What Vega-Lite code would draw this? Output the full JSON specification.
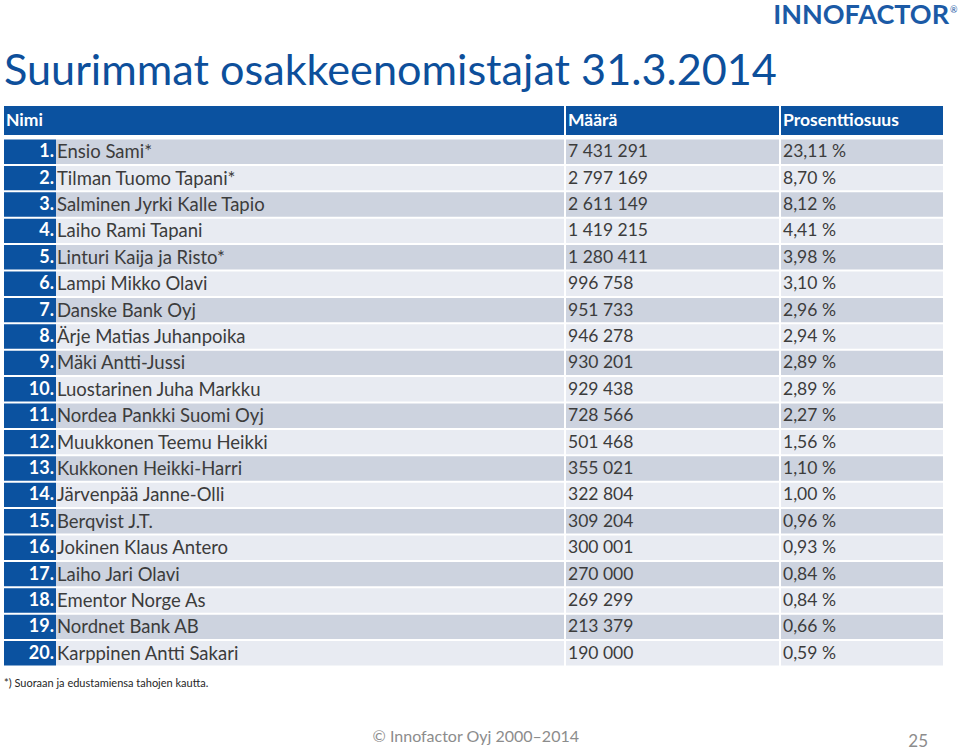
{
  "$schema": "https://vega.github.io/schema/vega-lite/v6.json",
  "padding": {"left": 4, "top": 0, "right": 16, "bottom": 0},
  "background": "white",
  "config": {
    "view": {"stroke": null},
    "axis": {"disable": true},
    "legend": {"disable": true},
    "text": {"font": "Lato", "baseline": "middle"},
    "locale": {"number": {"decimal": ",", "thousands": " ", "grouping": [3], "currency": ["", "."], "percent": " %"}}
  },
  "datasets": {
    "holders": [
      {"rank": 1, "name": "Ensio Sami*", "shares": 7431291, "pct": 0.2311},
      {"rank": 2, "name": "Tilman Tuomo Tapani*", "shares": 2797169, "pct": 0.0870},
      {"rank": 3, "name": "Salminen Jyrki Kalle Tapio", "shares": 2611149, "pct": 0.0812},
      {"rank": 4, "name": "Laiho Rami Tapani", "shares": 1419215, "pct": 0.0441},
      {"rank": 5, "name": "Linturi Kaija ja Risto*", "shares": 1280411, "pct": 0.0398},
      {"rank": 6, "name": "Lampi Mikko Olavi", "shares": 996758, "pct": 0.0310},
      {"rank": 7, "name": "Danske Bank Oyj", "shares": 951733, "pct": 0.0296},
      {"rank": 8, "name": "Ärje Matias Juhanpoika", "shares": 946278, "pct": 0.0294},
      {"rank": 9, "name": "Mäki Antti-Jussi", "shares": 930201, "pct": 0.0289},
      {"rank": 10, "name": "Luostarinen Juha Markku", "shares": 929438, "pct": 0.0289},
      {"rank": 11, "name": "Nordea Pankki Suomi Oyj", "shares": 728566, "pct": 0.0227},
      {"rank": 12, "name": "Muukkonen Teemu Heikki", "shares": 501468, "pct": 0.0156},
      {"rank": 13, "name": "Kukkonen Heikki-Harri", "shares": 355021, "pct": 0.0110},
      {"rank": 14, "name": "Järvenpää Janne-Olli", "shares": 322804, "pct": 0.0100},
      {"rank": 15, "name": "Berqvist J.T.", "shares": 309204, "pct": 0.0096},
      {"rank": 16, "name": "Jokinen Klaus Antero", "shares": 300001, "pct": 0.0093},
      {"rank": 17, "name": "Laiho Jari Olavi", "shares": 270000, "pct": 0.0084},
      {"rank": 18, "name": "Ementor Norge As", "shares": 269299, "pct": 0.0084},
      {"rank": 19, "name": "Nordnet Bank AB", "shares": 213379, "pct": 0.0066},
      {"rank": 20, "name": "Karppinen Antti Sakari", "shares": 190000, "pct": 0.0059}
    ],
    "one": [{}]
  },
  "hconcat": [
    {
      "width": 50,
      "height": 750,
      "layer": [
        {
          "data": {"name": "holders"},
          "mark": {"type": "rect", "color": "#0b52a0", "x2Offset": 2},
          "encoding": {
            "y": {"field": "rank", "type": "ordinal", "scale": {"type": "band", "domain": ["logo", "title", "header", 1, 2, 3, 4, 5, 6, 7, 8, 9, 10, 11, 12, 13, 14, 15, 16, 17, 18, 19, 20, "foot", "gap", "copy"], "range": [59.3, 745.7], "paddingInner": 0.0758, "paddingOuter": 0.0379}},
            "x": {"datum": 0, "type": "quantitative", "scale": {"domain": [0, 1]}},
            "x2": {"datum": 1}
          }
        },
        {
          "data": {"name": "one"},
          "mark": {"type": "rect", "color": "#0b52a0", "height": 29, "yOffset": -4.8, "x2Offset": 2},
          "encoding": {
            "y": {"datum": "header", "type": "ordinal"},
            "x": {"datum": 0, "type": "quantitative"},
            "x2": {"datum": 1}
          }
        },
        {
          "data": {"name": "holders"},
          "mark": {"type": "text", "align": "right", "dx": 0, "yOffset": 0.5, "fontSize": 18, "fontWeight": "bold", "color": "white"},
          "encoding": {
            "y": {"field": "rank", "type": "ordinal"},
            "x": {"datum": 1, "type": "quantitative"},
            "text": {"field": "rank", "type": "quantitative", "format": "$d"}
          }
        },
        {
          "data": {"name": "one"},
          "mark": {"type": "text", "text": "Nimi", "align": "left", "dx": 2, "yOffset": -4.3, "fontSize": 17.5, "fontWeight": "bold", "color": "white"},
          "encoding": {
            "y": {"datum": "header", "type": "ordinal"},
            "x": {"datum": 0, "type": "quantitative"}
          }
        },
        {
          "data": {"name": "one"},
          "mark": {"type": "text", "text": "Suurimmat osakkeenomistajat 31.3.2014", "align": "left", "baseline": "alphabetic", "dx": 0, "yOffset": -13.9, "fontSize": 43.2, "color": "#0d4f9b"},
          "encoding": {
            "y": {"datum": "title", "type": "ordinal"},
            "x": {"datum": 0, "type": "quantitative"}
          }
        },
        {
          "data": {"name": "one"},
          "mark": {"type": "text", "text": "*) Suoraan ja edustamiensa tahojen kautta.", "align": "left", "dx": 0, "yOffset": 4, "fontSize": 11, "color": "#262626"},
          "encoding": {
            "y": {"datum": "foot", "type": "ordinal"},
            "x": {"datum": 0, "type": "quantitative"}
          }
        }
      ]
    },
    {
      "width": 508,
      "height": 750,
      "layer": [
        {
          "data": {"name": "holders"},
          "mark": {"type": "rect"},
          "encoding": {
            "y": {"field": "rank", "type": "ordinal", "scale": {"type": "band", "domain": ["logo", "title", "header", 1, 2, 3, 4, 5, 6, 7, 8, 9, 10, 11, 12, 13, 14, 15, 16, 17, 18, 19, 20, "foot", "gap", "copy"], "range": [59.3, 745.7], "paddingInner": 0.0758, "paddingOuter": 0.0379}},
            "x": {"datum": 0, "type": "quantitative", "scale": {"domain": [0, 1]}},
            "x2": {"datum": 1},
            "fill": {"field": "rank", "type": "ordinal", "scale": {"range": ["#cdd3df", "#e8ebf2"]}}
          }
        },
        {
          "data": {"name": "one"},
          "mark": {"type": "rect", "color": "#0b52a0", "height": 29, "yOffset": -4.8},
          "encoding": {
            "y": {"datum": "header", "type": "ordinal"},
            "x": {"datum": 0, "type": "quantitative"},
            "x2": {"datum": 1}
          }
        },
        {
          "data": {"name": "holders"},
          "mark": {"type": "text", "align": "left", "dx": 1, "yOffset": 0.5, "fontSize": 18.5, "color": "#3c3c3c"},
          "encoding": {
            "y": {"field": "rank", "type": "ordinal"},
            "x": {"datum": 0, "type": "quantitative"},
            "text": {"field": "name", "type": "nominal"}
          }
        },
        {
          "data": {"name": "one"},
          "mark": {"type": "text", "text": "© Innofactor Oyj 2000–2014", "align": "right", "dx": 15, "yOffset": 4, "fontSize": 16, "color": "#8c8c8c"},
          "encoding": {
            "y": {"datum": "copy", "type": "ordinal"},
            "x": {"datum": 1, "type": "quantitative"}
          }
        }
      ]
    },
    {
      "width": 213,
      "height": 750,
      "layer": [
        {
          "data": {"name": "holders"},
          "mark": {"type": "rect"},
          "encoding": {
            "y": {"field": "rank", "type": "ordinal", "scale": {"type": "band", "domain": ["logo", "title", "header", 1, 2, 3, 4, 5, 6, 7, 8, 9, 10, 11, 12, 13, 14, 15, 16, 17, 18, 19, 20, "foot", "gap", "copy"], "range": [59.3, 745.7], "paddingInner": 0.0758, "paddingOuter": 0.0379}},
            "x": {"datum": 0, "type": "quantitative", "scale": {"domain": [0, 1]}},
            "x2": {"datum": 1},
            "fill": {"field": "rank", "type": "ordinal", "scale": {"range": ["#cdd3df", "#e8ebf2"]}}
          }
        },
        {
          "data": {"name": "one"},
          "mark": {"type": "rect", "color": "#0b52a0", "height": 29, "yOffset": -4.8},
          "encoding": {
            "y": {"datum": "header", "type": "ordinal"},
            "x": {"datum": 0, "type": "quantitative"},
            "x2": {"datum": 1}
          }
        },
        {
          "data": {"name": "one"},
          "mark": {"type": "text", "text": "Määrä", "align": "left", "dx": 2, "yOffset": -4.3, "fontSize": 17.5, "fontWeight": "bold", "color": "white"},
          "encoding": {
            "y": {"datum": "header", "type": "ordinal"},
            "x": {"datum": 0, "type": "quantitative"}
          }
        },
        {
          "data": {"name": "holders"},
          "mark": {"type": "text", "align": "left", "dx": 2, "yOffset": 0.5, "fontSize": 17.5, "color": "#3c3c3c"},
          "encoding": {
            "y": {"field": "rank", "type": "ordinal"},
            "x": {"datum": 0, "type": "quantitative"},
            "text": {"field": "shares", "type": "quantitative", "format": ",d"}
          }
        }
      ]
    },
    {
      "width": 162,
      "height": 750,
      "layer": [
        {
          "data": {"name": "holders"},
          "mark": {"type": "rect"},
          "encoding": {
            "y": {"field": "rank", "type": "ordinal", "scale": {"type": "band", "domain": ["logo", "title", "header", 1, 2, 3, 4, 5, 6, 7, 8, 9, 10, 11, 12, 13, 14, 15, 16, 17, 18, 19, 20, "foot", "gap", "copy"], "range": [59.3, 745.7], "paddingInner": 0.0758, "paddingOuter": 0.0379}},
            "x": {"datum": 0, "type": "quantitative", "scale": {"domain": [0, 1]}},
            "x2": {"datum": 1},
            "fill": {"field": "rank", "type": "ordinal", "scale": {"range": ["#cdd3df", "#e8ebf2"]}}
          }
        },
        {
          "data": {"name": "one"},
          "mark": {"type": "rect", "color": "#0b52a0", "height": 29, "yOffset": -4.8},
          "encoding": {
            "y": {"datum": "header", "type": "ordinal"},
            "x": {"datum": 0, "type": "quantitative"},
            "x2": {"datum": 1}
          }
        },
        {
          "data": {"name": "one"},
          "mark": {"type": "text", "text": "Prosenttiosuus", "align": "left", "dx": 2, "yOffset": -4.3, "fontSize": 17.5, "fontWeight": "bold", "color": "white"},
          "encoding": {
            "y": {"datum": "header", "type": "ordinal"},
            "x": {"datum": 0, "type": "quantitative"}
          }
        },
        {
          "data": {"name": "holders"},
          "mark": {"type": "text", "align": "left", "dx": 2, "yOffset": 0.5, "fontSize": 17.5, "color": "#3c3c3c"},
          "encoding": {
            "y": {"field": "rank", "type": "ordinal"},
            "x": {"datum": 0, "type": "quantitative"},
            "text": {"field": "pct", "type": "quantitative", "format": ".2%"}
          }
        },
        {
          "data": {"name": "one"},
          "mark": {"type": "text", "text": "INNOFACTOR", "align": "right", "baseline": "alphabetic", "dx": 6, "yOffset": -48.5, "fontSize": 27, "fontWeight": "bold", "color": "#1b5aa6"},
          "encoding": {
            "y": {"datum": "logo", "type": "ordinal"},
            "x": {"datum": 1, "type": "quantitative"}
          }
        },
        {
          "data": {"name": "one"},
          "mark": {"type": "text", "text": "®", "align": "left", "baseline": "alphabetic", "dx": 7, "yOffset": -60, "fontSize": 9, "color": "#1b5aa6"},
          "encoding": {
            "y": {"datum": "logo", "type": "ordinal"},
            "x": {"datum": 1, "type": "quantitative"}
          }
        },
        {
          "data": {"name": "one"},
          "mark": {"type": "text", "text": "25", "align": "right", "dx": -15, "yOffset": 9.5, "fontSize": 17, "color": "#8c8c8c"},
          "encoding": {
            "y": {"datum": "copy", "type": "ordinal"},
            "x": {"datum": 1, "type": "quantitative"}
          }
        }
      ]
    }
  ],
  "spacing": 2,
  "bounds": "flush"
}
